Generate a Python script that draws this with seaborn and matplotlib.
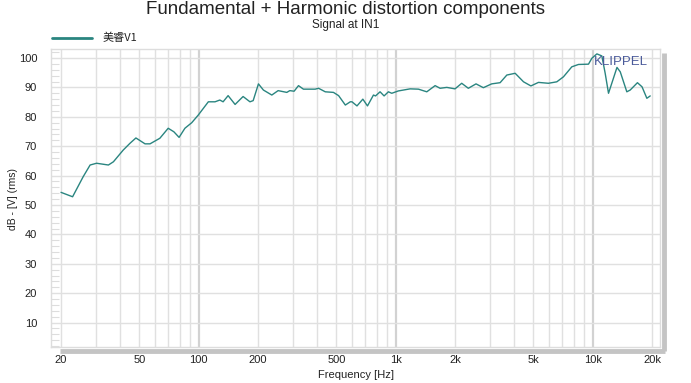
import numpy as np
import pandas as pd
import matplotlib
matplotlib.use("Agg")
import matplotlib.pyplot as plt
import seaborn as sns

# ---- data ----
freq_hz = [20, 22.9, 25.9, 28.1, 30.3, 34.8, 36.9, 41.4, 44.8, 48.0, 53.4, 56.6, 63.5, 70.0,
           74.8, 79.5, 85.1, 92.2, 99.5, 111.9, 121, 128, 133, 141, 153, 168, 182, 189,
           201, 213, 235, 253, 280, 290, 305, 321, 340, 390, 406, 439, 483, 513, 555, 588,
           600, 636, 681, 719, 771, 790, 833, 873, 918, 955, 1032, 1183, 1305, 1438, 1585,
           1680, 1817, 2000, 2163, 2337, 2557, 2786, 3071, 3388, 3665, 4040, 4455, 4856,
           5305, 5960, 6573, 7105, 7834, 8470, 9520, 9900, 10500, 11130, 11570, 12030,
           12500, 13280, 13800, 14900, 15500, 16870, 17800, 18830, 19590]
level_db = [54.3, 52.8, 59.6, 63.6, 64.2, 63.6, 64.7, 68.7, 71.0, 72.8, 70.8, 70.8, 72.7, 76.1,
            74.9, 73.0, 76.1, 78.0, 80.6, 85.1, 85.1, 85.7, 85.1, 87.2, 84.2, 86.9, 85.1, 85.5,
            91.2, 89.1, 87.4, 88.9, 88.3, 88.9, 88.7, 90.6, 89.4, 89.4, 89.7, 88.5, 88.3, 87.2,
            84.0, 85.1, 85.1, 83.7, 86.0, 83.7, 87.4, 87.1, 88.5, 87.1, 88.5, 88.0, 88.8, 89.5,
            89.4, 88.5, 90.6, 89.7, 90.0, 89.5, 91.4, 89.7, 91.2, 89.9, 91.2, 91.6, 94.2, 94.8,
            91.9, 90.5, 91.7, 91.4, 91.9, 93.6, 97.0, 97.8, 97.9, 99.9, 101.4, 100.7, 94.8,
            88.0, 91.4, 96.8, 95.3, 88.5, 89.1, 91.6, 90.2, 86.3, 87.1]
series_name = "美睿V1"
x_tick_values = [20, 50, 100, 200, 500, 1000, 2000, 5000, 10000, 20000]
x_tick_labels = ["20", "50", "100", "200", "500", "1k", "2k", "5k", "10k", "20k"]
y_tick_values = [10, 20, 30, 40, 50, 60, 70, 80, 90, 100]

df = pd.DataFrame({"freq": freq_hz, "db": level_db, "name": series_name})

sns.set_style("white")
plt.rcParams["font.family"] = ["Liberation Sans", "Noto Sans CJK SC", "DejaVu Sans"]

fig = plt.figure(figsize=(6.91, 3.83), dpi=100)
ax = fig.add_axes([51 / 691, 1 - 347 / 383, 609 / 691, 298 / 383])

line_color = "#2a8580"
sns.lineplot(data=df, x="freq", y="db", ax=ax, color=line_color, linewidth=1.0,
             legend=False, sort=True)
for ln in ax.get_lines():
    ln.set_solid_joinstyle("round")
ax.set_xscale("log")
ax.set_xlim(17.79, 21960)
ax.set_ylim(1.7, 103.06)

# grid
grid_freqs = []
for dec in [10, 100, 1000, 10000]:
    for m in range(1, 10):
        f = dec * m
        if 20 <= f <= 20000:
            grid_freqs.append(f)
for f in grid_freqs:
    thick = f in (100, 1000, 10000)
    ax.axvline(f, color="#d2d2d2" if thick else "#e0e0e0", lw=1.6 if thick else 1.0, zorder=0)
for yv in y_tick_values:
    ax.axhline(yv, color="#e0e0e0", lw=1.0, zorder=0)

ax.set_xticks(x_tick_values)
ax.set_xticklabels(x_tick_labels)
ax.xaxis.set_minor_locator(matplotlib.ticker.NullLocator())
ax.set_yticks(y_tick_values)
ax.yaxis.set_minor_locator(matplotlib.ticker.MultipleLocator(2))
ax.tick_params(axis="x", which="both", length=0, labelsize=8, pad=6, colors="#222222")
ax.tick_params(axis="y", which="major", length=0, labelsize=8, pad=10, colors="#222222")
ax.tick_params(axis="y", which="minor", direction="in", length=6, width=0.8, color="#dddddd", left=True)

for s in ax.spines.values():
    s.set_color("#dddddd")
    s.set_linewidth(1.0)

# drop shadow on the right and bottom
ax.plot([1.006, 1.006], [-0.012, 0.985], transform=ax.transAxes, color="#c4c4c4", lw=3.5,
        clip_on=False, solid_capstyle="butt")
ax.plot([0.015, 1.008], [-0.012, -0.012], transform=ax.transAxes, color="#c4c4c4", lw=3.5,
        clip_on=False, solid_capstyle="butt")

ax.set_xlabel("Frequency [Hz]", fontsize=8, labelpad=3, color="#222222")
ax.set_ylabel("")
fig.text(0.012, 0.48, "dB - [V] (rms)", rotation=90, fontsize=7.5, va="center", ha="left",
         color="#222222")

fig.text(0.50, 0.975, "Fundamental + Harmonic distortion components", fontsize=13.5,
         ha="center", va="center", color="#222222")
fig.text(0.50, 0.935, "Signal at IN1", fontsize=8.5, ha="center", va="center", color="#222222")

# legend
fig.lines.append(matplotlib.lines.Line2D([52 / 691, 92 / 691], [1 - 38 / 383] * 2,
                                         color=line_color, lw=2, transform=fig.transFigure))
fig.text(103 / 691, 1 - 38 / 383, series_name, fontsize=8, va="center", ha="left",
         color="#222222", family=["Noto Sans CJK SC", "DejaVu Sans"])

ax.text(0.980, 0.955, "KLIPPEL", transform=ax.transAxes, fontsize=9.5, ha="right", va="center",
        color="#4a5a9a")

fig.savefig("out.png", dpi=100)
